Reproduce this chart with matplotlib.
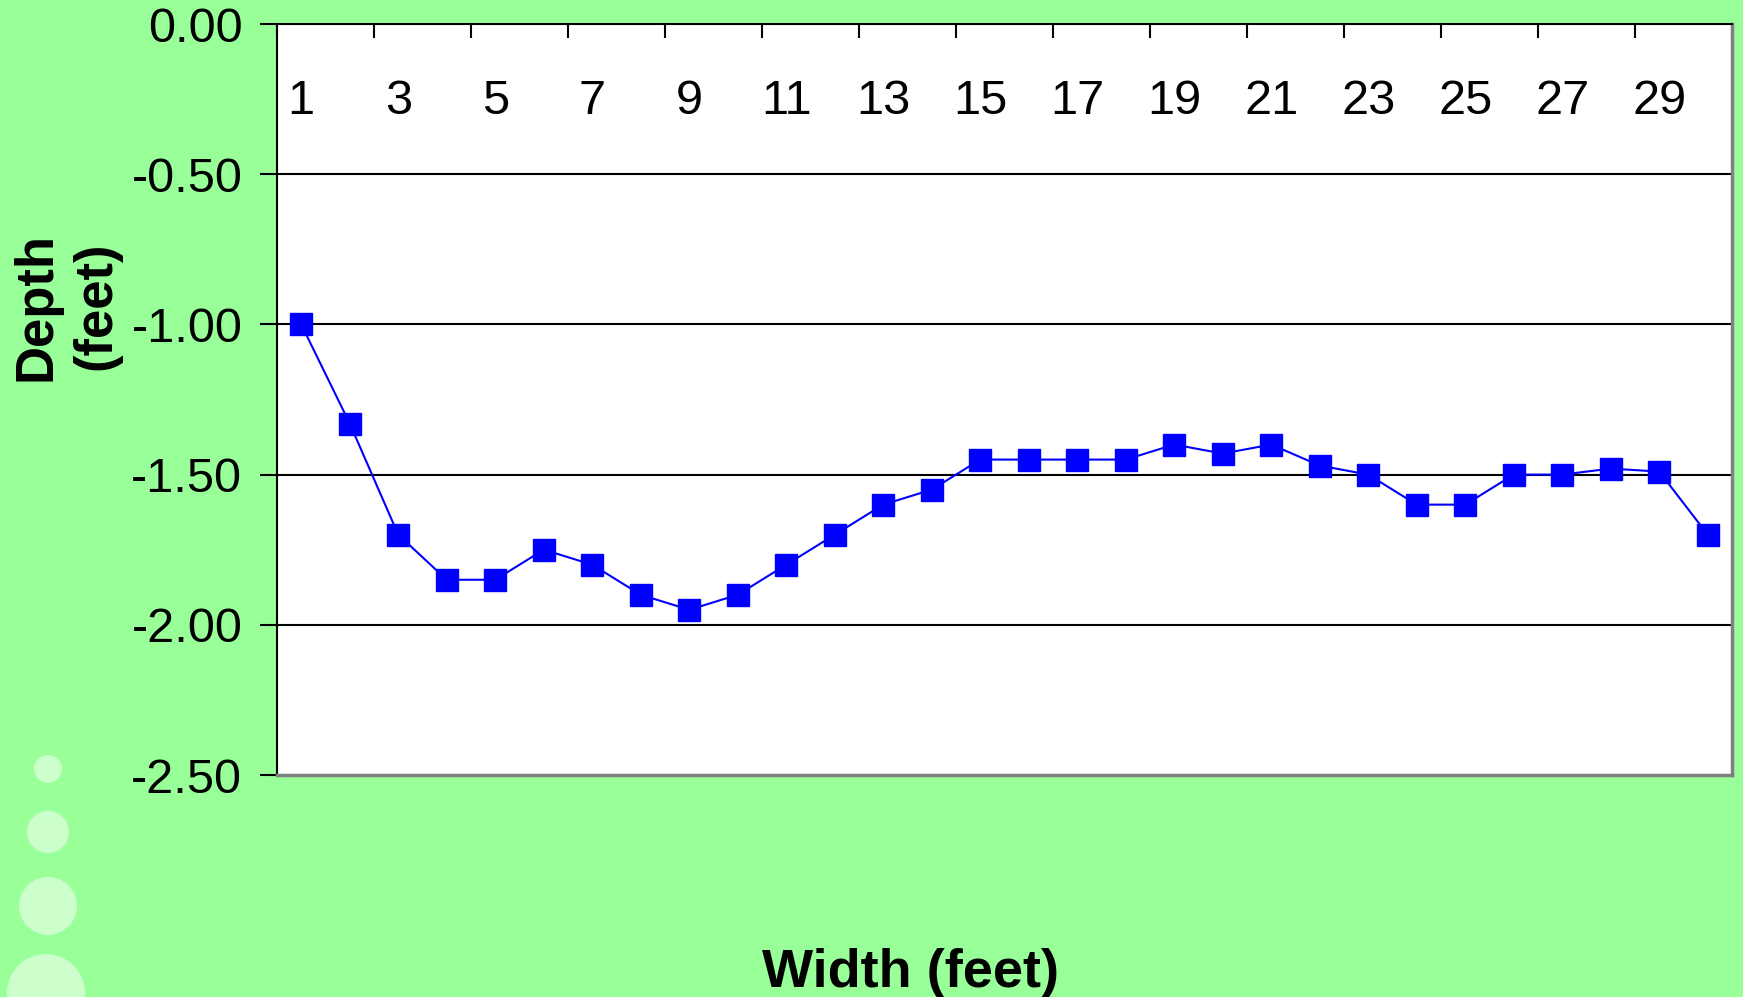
import matplotlib
matplotlib.use("Agg")
import matplotlib.pyplot as plt
from matplotlib.patches import Circle

plt.rcParams['font.family'] = ['Liberation Sans', 'DejaVu Sans']

# data
width_ft = list(range(1, 31))
depth_ft = [-1.00, -1.33, -1.70, -1.85, -1.85, -1.75, -1.80, -1.90, -1.95, -1.90,
            -1.80, -1.70, -1.60, -1.55, -1.45, -1.45, -1.45, -1.45, -1.40, -1.43,
            -1.40, -1.47, -1.50, -1.60, -1.60, -1.50, -1.50, -1.48, -1.49, -1.70]
y_ticks = [0.0, -0.5, -1.0, -1.5, -2.0, -2.5]
y_labels = ["0.00", "-0.50", "-1.00", "-1.50", "-2.00", "-2.50"]
x_label_cats = list(range(1, 30, 2))

BG = "#99FF99"
W, H = 1743, 997
fig = plt.figure(figsize=(W / 100, H / 100), dpi=100, facecolor=BG)

# decorative bubbles bottom-left (pixel coords)
for cx, cy, r in [(48, 769, 14), (48, 832, 21), (48, 906, 29), (46, 993, 39)]:
    fig.patches.append(Circle((cx, H - cy), r, transform=None,
                              facecolor="#CCFFCC", edgecolor="none", zorder=0))

L, R, T, B = 277, 1732, 24, 775
ax = fig.add_axes([L / W, (H - B) / H, (R - L) / W, (B - T) / H])
ax.set_facecolor("white")

for yv in y_ticks[1:-1]:
    ax.axhline(yv, color="black", lw=1.5, zorder=1)

ax.plot(width_ft, depth_ft, color="#0000FF", lw=1.5, marker="s",
        markersize=15.5, markerfacecolor="#0000FF", markeredgecolor="#0000FF",
        zorder=3, clip_on=False)

ax.set_xlim(0.5, 30.5)
ax.set_ylim(-2.5, 0)

# x axis sits at the top (y = 0)
ax.xaxis.set_ticks_position("top")
ax.set_xticks([c + 0.5 for c in range(0, 31, 2)])
ax.set_xticklabels([])
ax.tick_params(axis="x", which="major", direction="in", length=10, width=1.5,
               color="black", top=True, bottom=False)
ax.set_xticks(x_label_cats, minor=True)
ax.set_xticklabels([str(c) for c in x_label_cats], minor=True)
ax.tick_params(axis="x", which="minor", length=0, labeltop=True,
               labelbottom=False, labelsize=35, pad=-72)

ax.set_yticks(y_ticks)
ax.set_yticklabels(y_labels)
ax.tick_params(axis="y", direction="out", length=12, width=1.5, labelsize=35,
               pad=13, color="black")

ax.spines["top"].set_color("black")
ax.spines["top"].set_linewidth(1.5)
ax.spines["left"].set_color("black")
ax.spines["left"].set_linewidth(1.5)
for s in ("right", "bottom"):
    ax.spines[s].set_color("#808080")
    ax.spines[s].set_linewidth(2.5)

fig.text(66 / W, 1 - 306 / H, "Depth\n(feet)", rotation=90, ha="center",
         va="center", fontsize=38, fontweight="bold", linespacing=1.25)
fig.text(911 / W, 10 / H, "Width (feet)", ha="center", va="baseline",
         fontsize=39, fontweight="bold")

fig.savefig("out.png", dpi=100, facecolor=BG)
